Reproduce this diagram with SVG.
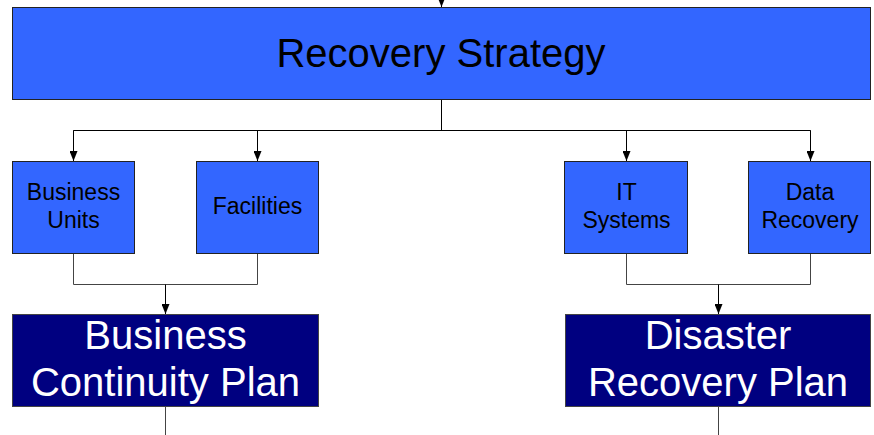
<svg xmlns="http://www.w3.org/2000/svg" width="874" height="435" viewBox="0 0 874 435">
<defs>
<marker id="arr" markerWidth="10" markerHeight="8" refX="10" refY="4" orient="auto" markerUnits="userSpaceOnUse" viewBox="0 0 10 8">
<path d="M0,0 L10,4 L0,8 Z" fill="#000"/>
</marker>
</defs>
<style>
.box{fill:#3366FF;stroke:#222;stroke-width:1}
.plan{fill:#000080;stroke:#444;stroke-width:1}
.lbl{font-family:"Liberation Sans",Arial,sans-serif;font-size:23px;fill:#000;text-anchor:middle}
.big{font-family:"Liberation Sans",Arial,sans-serif;font-size:40px;text-anchor:middle}
.ln{fill:none;stroke:#000;stroke-width:1}
.mg{fill:none;stroke:#444;stroke-width:1}
</style>
<rect width="874" height="435" fill="#fff"/>
<g id="connectors">
<line class="ln" x1="441.5" y1="-10" x2="441.5" y2="7" marker-end="url(#arr)"/>
<polyline class="ln" points="441.5,99 441.5,130.5"/>
<polyline class="ln" points="73.5,161 73.5,130.5 810.5,130.5 810.5,161"/>
<line class="ln" x1="73.5" y1="130.5" x2="73.5" y2="161" marker-end="url(#arr)"/>
<line class="ln" x1="257.5" y1="130.5" x2="257.5" y2="161" marker-end="url(#arr)"/>
<line class="ln" x1="626.5" y1="130.5" x2="626.5" y2="161" marker-end="url(#arr)"/>
<line class="ln" x1="810.5" y1="130.5" x2="810.5" y2="161" marker-end="url(#arr)"/>
<polyline class="mg" points="73.5,253 73.5,284.5 257.5,284.5 257.5,253"/>
<line class="ln" x1="165.5" y1="284.5" x2="165.5" y2="314" marker-end="url(#arr)"/>
<polyline class="mg" points="626.5,253 626.5,284.5 810.5,284.5 810.5,253"/>
<line class="ln" x1="718.5" y1="284.5" x2="718.5" y2="314" marker-end="url(#arr)"/>
<line class="mg" x1="165.5" y1="407" x2="165.5" y2="435"/>
<line class="mg" x1="718.5" y1="407" x2="718.5" y2="435"/>
</g>
<g id="recovery-strategy">
<rect class="box" x="12.5" y="7.5" width="858" height="92"/>
<text class="big" x="441" y="67" fill="#000">Recovery Strategy</text>
</g>
<g id="business-units">
<rect class="box" x="12.5" y="161.5" width="122" height="92"/>
<text class="lbl" x="73.5" y="200">Business</text>
<text class="lbl" x="73.5" y="228">Units</text>
</g>
<g id="facilities">
<rect class="box" x="196.5" y="161.5" width="122" height="92"/>
<text class="lbl" x="257.5" y="214">Facilities</text>
</g>
<g id="it-systems">
<rect class="box" x="564.5" y="161.5" width="123" height="92"/>
<text class="lbl" x="626.5" y="200">IT</text>
<text class="lbl" x="626.5" y="228">Systems</text>
</g>
<g id="data-recovery">
<rect class="box" x="748.5" y="161.5" width="122" height="92"/>
<text class="lbl" x="810" y="200">Data</text>
<text class="lbl" x="810" y="228">Recovery</text>
</g>
<g id="business-continuity-plan">
<rect class="plan" x="12.5" y="314.5" width="306" height="92"/>
<text class="big" x="165.5" y="349" fill="#fff">Business</text>
<text class="big" x="165.5" y="396" fill="#fff">Continuity Plan</text>
</g>
<g id="disaster-recovery-plan">
<rect class="plan" x="565.5" y="314.5" width="305" height="92"/>
<text class="big" x="718" y="349" fill="#fff">Disaster</text>
<text class="big" x="718" y="396" fill="#fff">Recovery Plan</text>
</g>
</svg>
